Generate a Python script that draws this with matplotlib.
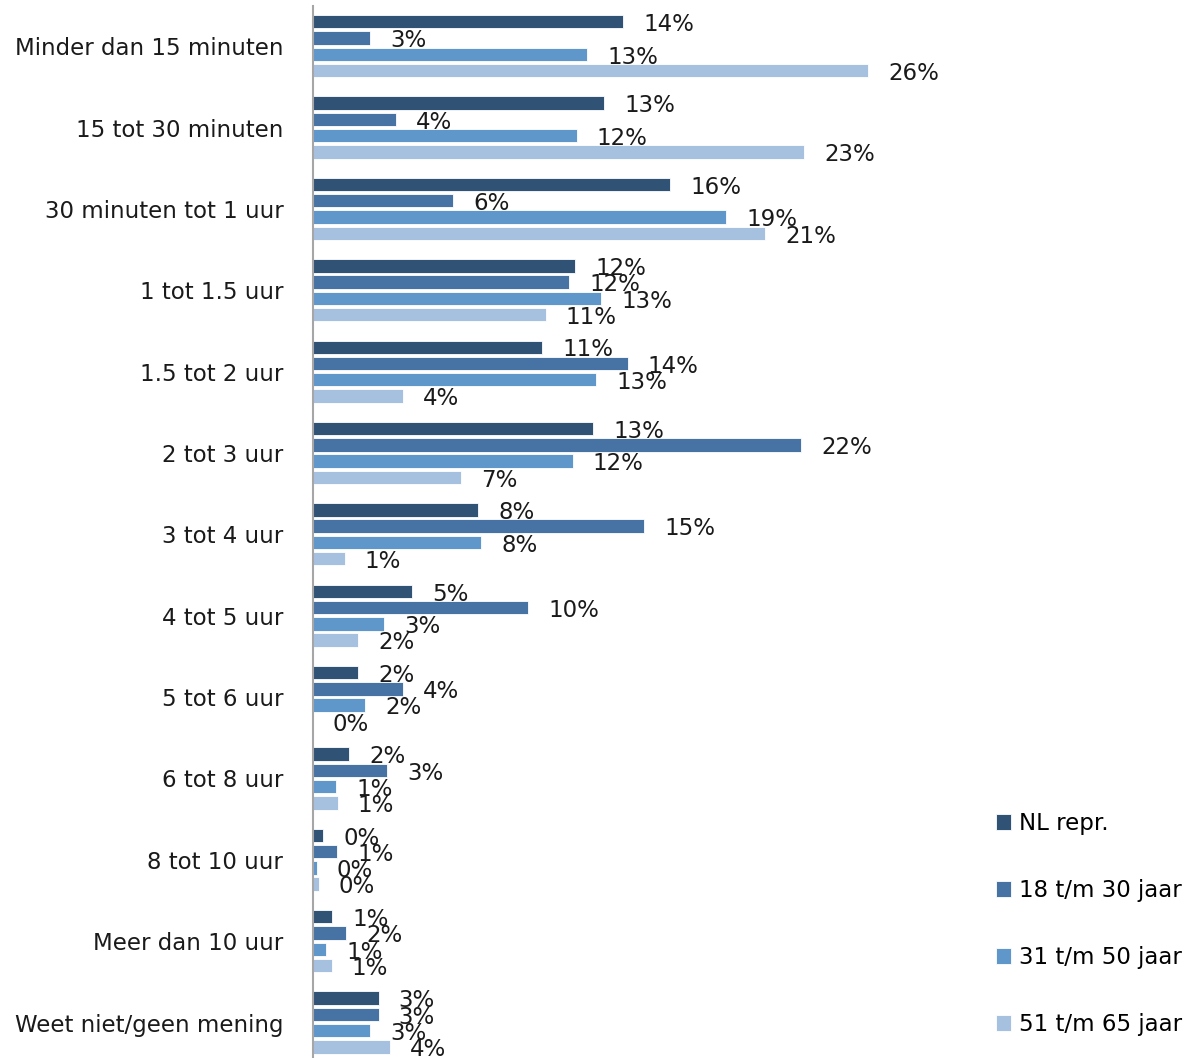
import matplotlib
matplotlib.use("Agg")
import matplotlib.pyplot as plt
from matplotlib.patches import Patch
import numpy as np

# 1. 데이터 (그림에서 읽은 값, %)
categories = [
    "Minder dan 15 minuten",
    "15 tot 30 minuten",
    "30 minuten tot 1 uur",
    "1 tot 1.5 uur",
    "1.5 tot 2 uur",
    "2 tot 3 uur",
    "3 tot 4 uur",
    "4 tot 5 uur",
    "5 tot 6 uur",
    "6 tot 8 uur",
    "8 tot 10 uur",
    "Meer dan 10 uur",
    "Weet niet/geen mening",
]
series_names = ["NL repr.", "18 t/m 30 jaar", "31 t/m 50 jaar", "51 t/m 65 jaar"]

nl_repr = [14.29, 13.40, 16.44, 12.08, 10.55, 12.91, 7.62, 4.57, 2.09, 1.68, 0.48, 0.91, 3.04]
age_18_30 = [2.64, 3.83, 6.45, 11.79, 14.49, 22.46, 15.24, 9.91, 4.17, 3.41, 1.13, 1.53, 3.04]
age_31_50 = [12.61, 12.15, 19.01, 13.28, 13.03, 11.96, 7.75, 3.29, 2.40, 1.08, 0.19, 0.63, 2.64]
age_51_65 = [25.55, 22.60, 20.82, 10.72, 4.17, 6.83, 1.48, 2.09, 0.00, 1.16, 0.29, 0.88, 3.56]

colors = ["#2F5275", "#4673A3", "#6097CB", "#A6C1E0"]

plt.rcParams["font.family"] = "DejaVu Sans"
plt.rcParams["font.size"] = 16.5

# 2. 그림 설정
fig = plt.figure(figsize=(11.87, 10.58), dpi=100)
ax = fig.add_axes([0.2633, -0.0049, 0.5497, 0.9997])

pitch = 0.2
bar_h = 0.165
indices = np.arange(len(categories))

all_series = [nl_repr, age_18_30, age_31_50, age_51_65]
handles = []
for j, values in enumerate(all_series):
    pos = indices + (j - 1.5) * pitch
    ax.barh(
        pos,
        values,
        height=bar_h,
        color=colors[j],
        edgecolor="white",
        linewidth=0.6,
    )
    # 막대 끝 라벨
    for y, v in zip(pos, values):
        ax.annotate(
            f"{v:.0f}%",
            xy=(v, y),
            xytext=(14.5, -2),
            textcoords="offset points",
            ha="left",
            va="center",
            color="#1a1a1a",
        )
    handles.append(Patch(facecolor=colors[j], edgecolor="white", linewidth=0.6))

# 3. 축 디자인
ax.set_xlim(0, 30)
ax.set_ylim(12.5, -0.5)
ax.set_yticks(indices)
ax.set_yticklabels(categories, color="#1a1a1a")
ax.tick_params(axis="y", length=0, pad=21)
ax.set_xticks([])
for side in ["top", "right", "bottom"]:
    ax.spines[side].set_visible(False)
ax.spines["left"].set_color("#A6A6A6")
ax.spines["left"].set_linewidth(1.5)

# 4. 범례
fig.legend(
    handles,
    series_names,
    loc="upper left",
    bbox_to_anchor=(0.839, 0.2326),
    frameon=False,
    handlelength=0.65,
    handleheight=0.65,
    handletextpad=0.35,
    labelspacing=1.92,
    borderaxespad=0,
    borderpad=0,
)

fig.savefig("out.png", dpi=100)
